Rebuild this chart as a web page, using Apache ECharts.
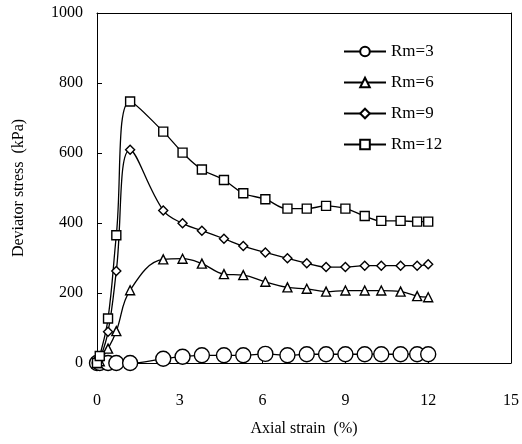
<!DOCTYPE html>
<html>
<head>
<meta charset="utf-8">
<script src="https://cdn.jsdelivr.net/npm/echarts@6/dist/echarts.min.js"></script>
<style>html,body{margin:0;padding:0;background:#fff;}#c{width:522px;height:444px;}</style>
</head>
<body>
<div id="c"></div>
<script>
var strain = [0, 0.1, 0.4, 0.7, 1.2, 2.4, 3.1, 3.8, 4.6, 5.3, 6.1, 6.9, 7.6, 8.3, 9.0, 9.7, 10.3, 11.0, 11.6, 12.0];
var rm3  = [0, 0, 0, 0, 0, 12, 18, 22, 22, 22, 26, 22, 25, 25, 25, 25, 25, 25, 25, 25];
var rm6  = [0, 5, 41, 91, 208, 296, 298, 284, 254, 251, 232, 216, 212, 204, 207, 207, 207, 204, 191, 188];
var rm9  = [0, 10, 89, 263, 609, 436, 399, 378, 355, 334, 316, 299, 285, 274, 274, 278, 278, 278, 278, 282];
var rm12 = [0, 20, 127, 365, 747, 661, 601, 553, 523, 485, 468, 441, 441, 449, 441, 420, 406, 406, 404, 404];
var seriesNames = ['Rm=3', 'Rm=6', 'Rm=9', 'Rm=12'];
var xTicks = [0, 3, 6, 9, 12, 15];
var yTicks = [0, 200, 400, 600, 800, 1000];

function pairs(ys){ return strain.map(function(x,i){ return [x, ys[i]]; }); }
var font = 'Liberation Serif, Times New Roman, serif';
function mk(name, ys, sym, size){
  return {
    name: name, type: 'line', data: pairs(ys), smooth: 0.4,
    symbol: sym, symbolSize: size, showAllSymbol: true,
    lineStyle: {color: '#000', width: 1.3},
    itemStyle: {color: '#fff', borderColor: '#000', borderWidth: 1.4},
    z: 2
  };
}
var frameAxis = {
  axisLine: {show: true, onZero: false, lineStyle: {color: '#000', width: 1}},
  axisTick: {show: false}, axisLabel: {show: false}, splitLine: {show: false}
};
var chart = echarts.init(document.getElementById('c'), null, {renderer: 'canvas'});
chart.setOption({
  animation: false,
  backgroundColor: '#fff',
  textStyle: {fontFamily: font, color: '#000'},
  grid: {left: 97, right: 10, top: 13, bottom: 81},
  legend: {
    orient: 'vertical', left: 338, top: 38, itemWidth: 42, itemHeight: 12, itemGap: 14,
    textStyle: {fontFamily: font, fontSize: 17, color: '#000'},
    data: seriesNames
  },
  xAxis: [{
    type: 'value', min: xTicks[0], max: xTicks[xTicks.length-1], interval: 3,
    name: 'Axial strain  (%)', nameLocation: 'middle', nameGap: 58,
    nameTextStyle: {fontFamily: font, fontSize: 16, color: '#000'},
    axisLine: {onZero: false, lineStyle: {color: '#000', width: 1}},
    axisTick: {inside: true, length: 5, lineStyle: {color: '#000'}},
    axisLabel: {fontFamily: font, fontSize: 16, color: '#000', margin: 30},
    splitLine: {show: false}
  }, Object.assign({type: 'value', position: 'top', min: 0, max: 15}, frameAxis)],
  yAxis: [{
    type: 'value', min: yTicks[0], max: yTicks[yTicks.length-1], interval: 200,
    name: 'Deviator stress  (kPa)', nameLocation: 'middle', nameGap: 70,
    nameTextStyle: {fontFamily: font, fontSize: 16, color: '#000'},
    axisLine: {show: true, onZero: false, lineStyle: {color: '#000', width: 1}},
    axisTick: {show: true, inside: true, length: 5, lineStyle: {color: '#000'}},
    axisLabel: {fontFamily: font, fontSize: 16, color: '#000', margin: 14,
      formatter: function(v){ return String(v); }},
    splitLine: {show: false}
  }, Object.assign({type: 'value', position: 'right', min: 0, max: 1000}, frameAxis)],
  series: [
    mk(seriesNames[0], rm3, 'circle', 15),
    mk(seriesNames[1], rm6, 'triangle', 9),
    mk(seriesNames[2], rm9, 'diamond', 9),
    mk(seriesNames[3], rm12, 'rect', 9)
  ]
});
</script>
</body>
</html>
